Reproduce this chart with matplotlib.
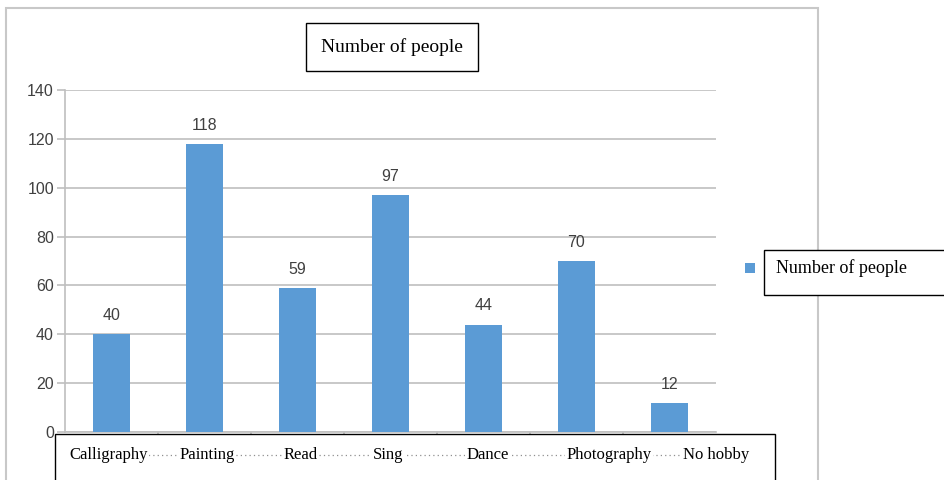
import matplotlib
matplotlib.use("Agg")
import matplotlib.pyplot as plt
from matplotlib.patches import Rectangle
from matplotlib.lines import Line2D

categories = ["Calligraphy", "Painting", "Read", "Sing", "Dance", "Photography", "No hobby"]
values = [40, 118, 59, 97, 44, 70, 12]
yticks = [0, 20, 40, 60, 80, 100, 120, 140]
series_name = "Number of people"
title = "Number of people"

# label x positions (data units) as they appear in the reference
label_x = [-0.03, 1.03, 2.03, 2.97, 4.04, 5.35, 6.5]

bar_color = "#5B9BD5"
grid_color = "#BFBFBF"
serif = "Liberation Serif"
sans = "Liberation Sans"

fig = plt.figure(figsize=(9.44, 4.8), dpi=100)
ax = fig.add_axes([65/944, 1-432/480, (716-65)/944, (432-90)/480])

x = list(range(len(categories)))
bars = ax.bar(x, values, width=0.4, color=bar_color, zorder=3)
ax.set_xlim(-0.5, len(categories)-0.5)
ax.set_ylim(0, 140)
ax.set_yticks(yticks)
ax.set_yticklabels([str(v) for v in yticks], fontfamily=sans, fontsize=11.5, color="#404040")
ax.yaxis.grid(True, color=grid_color, linewidth=1.2, zorder=0)
ax.tick_params(axis="y", length=6, color=grid_color, width=1.2, pad=2)
ax.set_xticks([i+0.5 for i in range(len(categories)-1)])
ax.set_xticklabels([])
ax.tick_params(axis="x", length=5, color=grid_color, width=1.2, direction="out")
for s in ["top", "right"]:
    ax.spines[s].set_visible(False)
for s in ["left", "bottom"]:
    ax.spines[s].set_color(grid_color)
    ax.spines[s].set_linewidth(1.2)

for b, v in zip(bars, values):
    ax.annotate(str(v), (b.get_x()+b.get_width()/2, v), xytext=(0, 8),
                textcoords="offset points", ha="center", va="bottom",
                fontfamily=sans, fontsize=11.5, color="#404040")

# category label box
box = Rectangle((55/944, -0.02), (775-55)/944, 0.02+1-434/480,
                transform=fig.transFigure, fill=True, facecolor="white",
                edgecolor="black", linewidth=1.0, zorder=5, clip_on=False)
ax.add_patch(box)
ly = -0.066
ax.add_line(Line2D([label_x[0], label_x[-1]], [ly, ly], transform=ax.get_xaxis_transform(),
                   color="#909090", linestyle=(0, (1, 2.5)), linewidth=0.9, clip_on=False, zorder=6))
for lx, c in zip(label_x, categories):
    ax.text(lx, ly, c, transform=ax.get_xaxis_transform(), ha="center", va="center",
            fontfamily=serif, fontsize=12, color="black", zorder=7, clip_on=False,
            bbox=dict(facecolor="white", edgecolor="none", pad=1.0))

# title box
fig.text(392/944, 1-47/480, title, ha="center", va="center", fontfamily=serif, fontsize=14,
         bbox=dict(facecolor="white", edgecolor="black", linewidth=1.0, boxstyle="square,pad=0.75"))

# legend
fig.add_artist(Rectangle((745/944, 1-273/480), 10/944, 10/480, transform=fig.transFigure,
                         facecolor=bar_color, edgecolor="none"))
fig.add_artist(Rectangle((764/944, 1-295/480), 190/944, 45/480, transform=fig.transFigure,
                         facecolor="white", edgecolor="black", linewidth=1.0))
fig.text(776/944, 1-268/480, series_name, ha="left", va="center", fontfamily=serif, fontsize=13)

# outer chart border
fig.add_artist(Rectangle((6/944, -0.02), 812/944, 0.02+1-8/480, transform=fig.transFigure,
                         fill=False, edgecolor="#C8C8C8", linewidth=1.5, zorder=0))

fig.savefig("out.png", dpi=100)
